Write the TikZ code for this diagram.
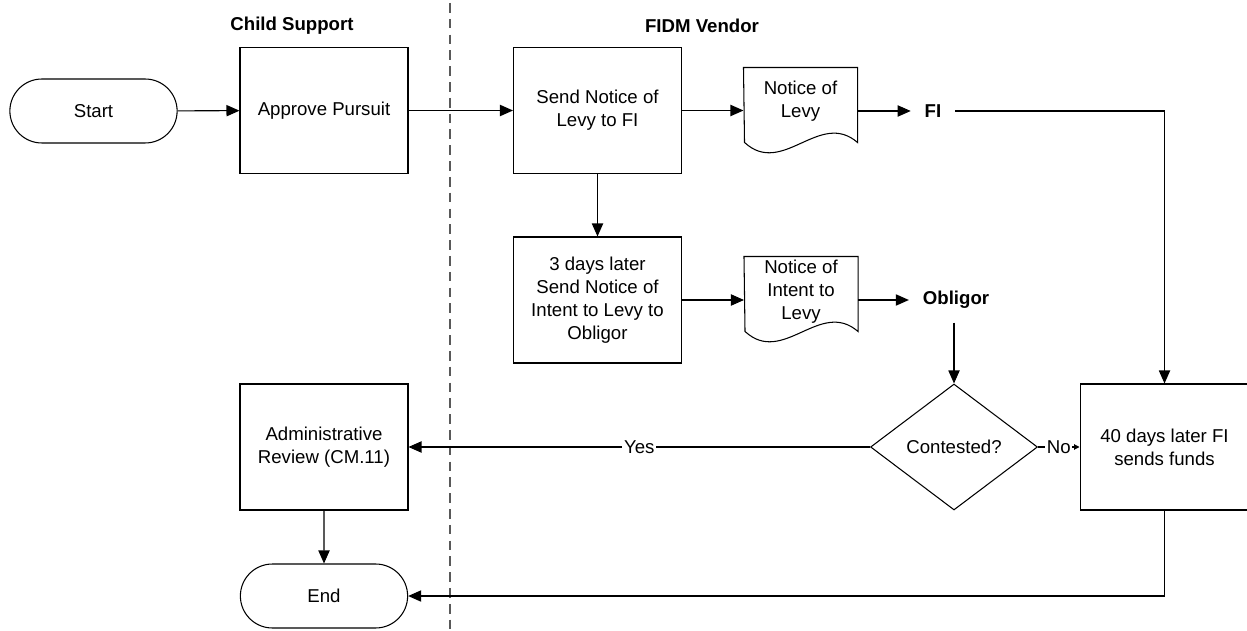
\documentclass[tikz,border=0pt]{standalone}
\usepackage{fontspec}
\setmainfont{Liberation Sans}
\usetikzlibrary{shapes.geometric,shapes.misc,arrows.meta}

\begin{document}
\begin{tikzpicture}[x=0.02cm, y=-0.02cm, line width=0.6pt,
    font=\fontsize{10.6}{13}\selectfont,
    >={Triangle[length=7.4pt,width=6.4pt]},
    process/.style={draw, rectangle, align=center, minimum width=3.36cm, minimum height=2.52cm, inner sep=2pt},
    terminal/.style={draw, rounded rectangle, minimum width=3.58cm, minimum height=1.28cm},
    document/.style={align=center, minimum width=2.26cm, inner sep=0pt},
    actor/.style={font=\fontsize{10.6}{13}\selectfont\bfseries, inner sep=0.27cm},
    lane/.style={font=\fontsize{10.6}{13}\selectfont\bfseries}]
    \useasboundingbox (0,0) rectangle (1247,631);

    % Lanes
    \node[lane] (csupport) at (292,26) {Child Support};
    \node[lane] (vendor) at (702,26) {FIDM Vendor};
    \draw[black!65, dash pattern=on 5.5pt off 3.5pt] (450,3) -- (450,631);

    % Steps
    \node[terminal] (start) at (93.5,111) {Start};
    \node[process] (approve) at (324,110.5) {Approve Pursuit};
    \node[process] (send) at (597.5,110.5) {Send Notice of\\Levy to FI};
    \node[process] (days3) at (597.5,300) {3 days later\\Send Notice of\\Intent to Levy to\\Obligor};
    \node[document, minimum height=1.32cm] (levydoc) at (800.5,101) {Notice of\\Levy};
    \node[document, minimum height=1.40cm] (intentdoc) at (801,292) {Notice of\\Intent to\\Levy};
    \node[actor] (fi) at (933,111) {FI};
    \node[actor] (obligor) at (956,300) {Obligor};
    \node[draw, diamond, minimum width=3.34cm, minimum height=2.52cm, inner sep=0pt] (contest) at (954,447) {Contested?};
    \node[process, minimum width=3.38cm] (funds) at (1164.5,447) {40 days later FI\\sends funds};
    \node[process] (admin) at (324,447) {Administrative\\Review (CM.11)};
    \node[terminal] (end) at (324,596) {End};

    % Document outlines
    \draw (levydoc.north west) -- (levydoc.north east) -- ++(0,75) .. controls +(-38,-33) and +(38,35) .. ++(-113,0) -- cycle;
    \draw (intentdoc.north west) -- (intentdoc.north east) -- ++(0,75) .. controls +(-38,-33) and +(38,35) .. ++(-113,0) -- cycle;

    % Flow
    \draw[->] (start) -- (approve);
    \draw[->] (approve) -- (send);
    \draw[->] (send.east) -- (send.east -| levydoc.west);
    \draw[->] (fi.west -| levydoc.east) -- (fi.west);
    \draw[->] (fi.east) -| (funds.north);
    \draw[->] (send) -- (days3);
    \draw[->] (days3.east) -- (days3.east -| intentdoc.west);
    \draw[->] (obligor.west -| intentdoc.east) -- (obligor.west);
    \draw[->] (obligor.south -| contest.north) -- (contest.north);
    \draw[->] (contest) -- node[fill=white, inner sep=1pt] {Yes} (admin);
    \draw[-{Triangle[length=3pt,width=3pt]}] (contest) -- node[fill=white, inner sep=1pt] {No} (funds);
    \draw[->] (admin) -- (end);
    \draw[->] (funds.south) |- (end.east);
\end{tikzpicture}
\end{document}
